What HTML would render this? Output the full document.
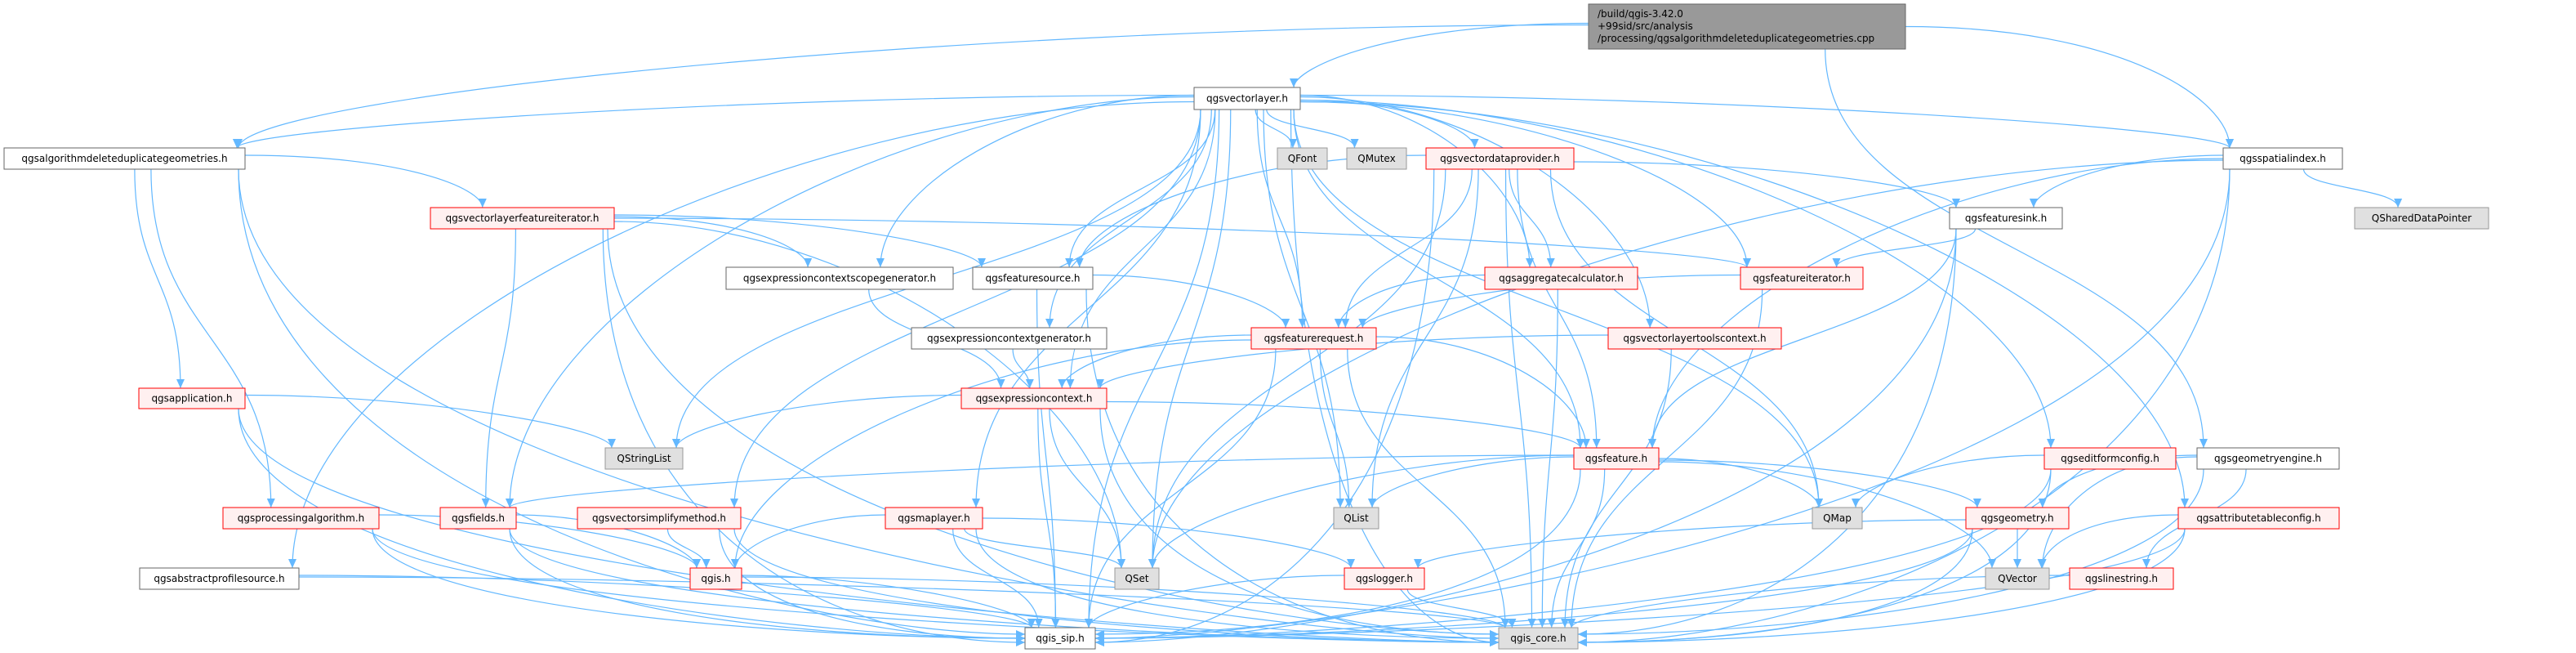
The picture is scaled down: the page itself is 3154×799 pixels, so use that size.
<!DOCTYPE html>
<html><head><meta charset="utf-8"><style>
html,body{margin:0;padding:0;background:#fff;width:3154px;height:799px;overflow:hidden}
svg{display:block}
text{font-family:"DejaVu Sans","Liberation Sans",sans-serif;font-size:12px;fill:#000}
</style></head><body>
<svg id="g" width="3154" height="799" viewBox="0 0 3154 799" xmlns="http://www.w3.org/2000/svg">
<defs><marker id="a" markerUnits="userSpaceOnUse" markerWidth="12" markerHeight="10" refX="11" refY="5" orient="auto"><path d="M0,0 L11,5 L0,10 z" fill="#63b8ff"/></marker></defs>
<g id="edges" fill="none" stroke="#63b8ff" stroke-width="1.2"></g>
<g id="nodes">
<rect x="1945" y="5" width="388" height="55" fill="#999" stroke="#666"/>
<text x="1956" y="21">/build/qgis-3.42.0</text>
<text x="1956" y="36">+99sid/src/analysis</text>
<text x="1956" y="51">/processing/qgsalgorithmdeleteduplicategeometries.cpp</text>
</g>
</svg>
<script>
var N={
VL:[1462,107,1592,134,'qgsvectorlayer.h','w'],
ALG:[5,181,300,207,'qgsalgorithmdeleteduplicategeometries.h','w'],
QF:[1564,181,1625,207,'QFont','g'],
QM:[1649,181,1722,207,'QMutex','g'],
VDP:[1746,181,1927,207,'qgsvectordataprovider.h','r'],
SI:[2722,181,2868,207,'qgsspatialindex.h','w'],
VLFI:[527,254,752,280,'qgsvectorlayerfeatureiterator.h','r'],
FSINK:[2387,254,2525,280,'qgsfeaturesink.h','w'],
QSDP:[2883,254,3047,280,'QSharedDataPointer','g'],
ECSG:[889,327,1167,354,'qgsexpressioncontextscopegenerator.h','w'],
FSRC:[1191,327,1338,354,'qgsfeaturesource.h','w'],
AGG:[1818,327,2005,354,'qgsaggregatecalculator.h','r'],
FITER:[2131,327,2281,354,'qgsfeatureiterator.h','r'],
ECG:[1116,401,1355,427,'qgsexpressioncontextgenerator.h','w'],
FREQ:[1532,401,1685,427,'qgsfeaturerequest.h','r'],
VLTC:[1969,401,2181,427,'qgsvectorlayertoolscontext.h','r'],
APP:[170,475,300,500,'qgsapplication.h','r'],
EC:[1177,475,1355,500,'qgsexpressioncontext.h','r'],
QSL:[741,548,836,574,'QStringList','g'],
FEAT:[1927,548,2031,574,'qgsfeature.h','r'],
EFC:[2503,548,2664,574,'qgseditformconfig.h','r'],
GE:[2690,548,2864,574,'qgsgeometryengine.h','w'],
PALG:[273,621,464,647,'qgsprocessingalgorithm.h','r'],
FIELDS:[539,621,632,647,'qgsfields.h','r'],
VSM:[707,621,907,647,'qgsvectorsimplifymethod.h','r'],
ML:[1084,621,1203,647,'qgsmaplayer.h','r'],
QL:[1633,621,1688,647,'QList','g'],
QMAP:[2219,621,2280,647,'QMap','g'],
GEOM:[2407,621,2533,647,'qgsgeometry.h','r'],
ATC:[2667,621,2864,647,'qgsattributetableconfig.h','r'],
APS:[171,695,366,721,'qgsabstractprofilesource.h','w'],
QGIS:[845,695,908,721,'qgis.h','r'],
QSET:[1365,695,1419,721,'QSet','g'],
LOG:[1646,695,1744,721,'qgslogger.h','r'],
QV:[2431,695,2509,721,'QVector','g'],
LS:[2534,695,2661,721,'qgslinestring.h','r'],
SIP:[1255,768,1341,794,'qgis_sip.h','w'],
CORE:[1835,768,1932,794,'qgis_core.h','g'],
TOP:[1945,5,2333,60,'','t']};
var E={
TOP:['VL','ALG','SI','GE'],
VL:['ALG','QF','QM','VDP','FSRC','ECSG','ECG','EC','FREQ','FITER','AGG','VLTC','FEAT','EFC','ATC','QSL','FIELDS','VSM','ML','QSET','QL','QMAP','SIP','CORE','APS','SI'],
ALG:['VLFI','APP','PALG','SIP','CORE'],
VLFI:['FSRC','ECSG','FITER','FIELDS','QSET','SIP','CORE'],
VDP:['FSRC','FREQ','AGG','FEAT','FSINK','QL','QSET','QMAP','SIP','CORE'],
SI:['FSINK','QSDP','FEAT','QSET','SIP','CORE'],
FSINK:['FITER','FEAT','SIP','CORE'],
ECSG:['EC'],FSRC:['FREQ','SIP','CORE'],AGG:['FREQ','CORE'],FITER:['FREQ','CORE'],
ECG:['EC'],FREQ:['EC','FEAT','QL','QGIS','SIP','CORE'],VLTC:['EC','CORE'],
APP:['QSL','SIP','CORE'],EC:['QSL','QSET','SIP','CORE','FEAT'],
FEAT:['FIELDS','QL','QMAP','GEOM','QV','QSET','SIP','CORE'],
EFC:['QMAP','SIP','CORE'],GE:['GEOM','QV','LS','CORE'],
PALG:['QGIS','SIP','CORE'],FIELDS:['QGIS','SIP','CORE'],VSM:['QGIS','SIP','CORE'],
ML:['QGIS','QSET','LOG','SIP','CORE'],GEOM:['QV','SIP','CORE','LOG'],ATC:['QV','SIP','CORE'],
APS:['SIP','CORE'],QGIS:['SIP','CORE'],LOG:['SIP','CORE'],LS:['CORE']};
var ns='http://www.w3.org/2000/svg',eg=document.getElementById('edges'),ng=document.getElementById('nodes');
function el(n,a){var e=document.createElementNS(ns,n);for(var k in a)e.setAttribute(k,a[k]);return e;}
for(var s in E){E[s].forEach(function(t,i){
 var S=N[s],T=N[t];var scx=(S[0]+S[2])/2,tcx=(T[0]+T[2])/2;
 var sx=Math.max(S[0]+8,Math.min(S[2]-8,scx+(tcx-scx)*0.15)),sy=S[3];
 var d;
 var dx=tcx-scx,dy=T[1]-S[3];
 if(dy>100&&Math.abs(dx)>350&&(t=='SIP'||t=='CORE')){
  var left=tcx>sx;var tx=left?T[0]:T[2];var ty=(T[1]+T[3])/2+((i%3)-1)*5;
  var dir=left?1:-1;
  d='M'+sx+','+sy+' C'+sx+','+(sy+(ty-sy)*0.7)+' '+(tx-dir*Math.min(300,Math.abs(tx-sx)*0.5))+','+ty+' '+tx+','+ty;
 } else if(Math.abs(dx)>1.8*dy&&Math.abs(dx)>250){
  var right=dx>0;sx=right?S[2]:S[0];sy=(S[1]+S[3])/2+((i%5)-2)*2;
  var tx=Math.max(T[0]+8,Math.min(T[2]-8,tcx-dx*0.1)),ty=T[1];
  d='M'+sx+','+sy+' C'+(sx+dx*0.4)+','+sy+' '+tx+','+(ty-dy*0.5)+' '+tx+','+ty;
 } else {
  var tx=Math.max(T[0]+8,Math.min(T[2]-8,tcx+(sx-tcx)*0.2)),ty=T[1];var h=(ty-sy)/2;
  d='M'+sx+','+sy+' C'+sx+','+(sy+h)+' '+tx+','+(ty-h)+' '+tx+','+ty;
 }
 eg.appendChild(el('path',{d:d,'marker-end':'url(#a)'}));
});}
for(var k in N){var n=N[k];if(n[5]=='t')continue;
 var fill=n[5]=='r'?'#fff0f0':n[5]=='g'?'#e0e0e0':'#fff',st=n[5]=='r'?'#ff0000':n[5]=='g'?'#999':'#666';
 ng.appendChild(el('rect',{x:n[0],y:n[1],width:n[2]-n[0],height:n[3]-n[1],fill:fill,stroke:st}));
 var tx=el('text',{x:(n[0]+n[2])/2,y:(n[1]+n[3])/2+4,'text-anchor':'middle'});tx.textContent=n[4];ng.appendChild(tx);}
</script>
</body></html>
